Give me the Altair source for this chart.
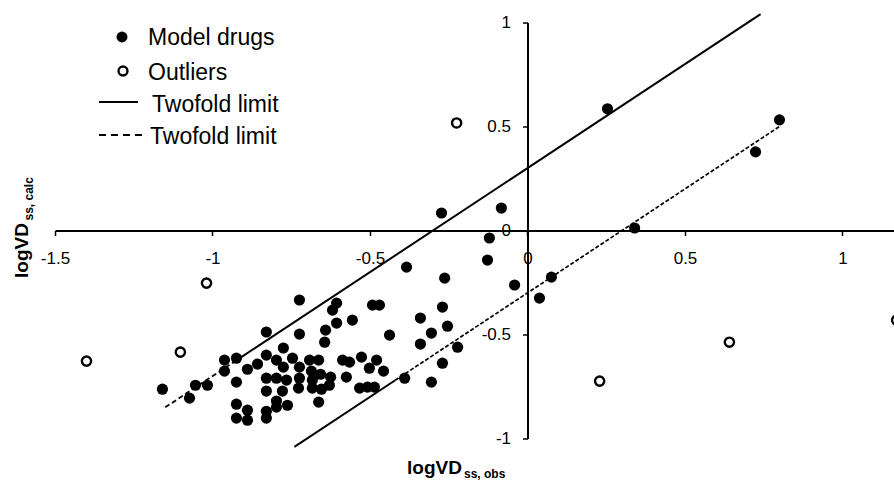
import altair as alt
import pandas as pd

# ---- data ----
model_x = [0.254, 0.800, 0.724, -0.273, -0.083, -0.121, -0.127, 0.340, 0.076, -0.041,
           0.038, -0.384, -0.263, -0.270, -0.340, -0.254, -0.305, -0.340, -0.222, -0.270,
           -0.390, -0.305, -0.724, -0.606, -0.492, -0.470, -0.619, -0.606, -0.556, -0.641,
           -0.724, -0.829, -0.644, -0.438, -0.775, -0.962, -0.962, -0.924, -0.889, -0.857,
           -0.829, -0.797, -0.775, -0.746, -0.724, -0.692, -0.663, -0.686, -0.657, -0.625,
           -0.587, -0.565, -0.527, -0.502, -0.479, -0.457, -0.829, -0.797, -0.765, -0.724,
           -0.683, -0.629, -0.575, -0.533, -0.508, -0.486, -0.924, -1.159, -1.054, -1.016,
           -1.073, -0.829, -0.778, -0.727, -0.683, -0.654, -0.797, -0.762, -0.663, -0.924,
           -0.889, -0.829, -0.797, -0.924, -0.889, -0.829]
model_y = [0.585, 0.532, 0.378, 0.084, 0.108, -0.036, -0.142, 0.012, -0.224, -0.262,
           -0.325, -0.176, -0.229, -0.368, -0.421, -0.460, -0.493, -0.546, -0.561, -0.638,
           -0.710, -0.729, -0.334, -0.349, -0.359, -0.359, -0.383, -0.445, -0.431, -0.479,
           -0.498, -0.488, -0.537, -0.503, -0.565, -0.623, -0.676, -0.614, -0.667, -0.642,
           -0.599, -0.623, -0.657, -0.614, -0.657, -0.623, -0.623, -0.676, -0.691, -0.705,
           -0.623, -0.633, -0.609, -0.662, -0.623, -0.676, -0.710, -0.710, -0.719, -0.710,
           -0.719, -0.744, -0.705, -0.758, -0.753, -0.753, -0.729, -0.763, -0.744, -0.744,
           -0.806, -0.772, -0.772, -0.758, -0.758, -0.763, -0.820, -0.840, -0.825, -0.835,
           -0.864, -0.869, -0.849, -0.902, -0.912, -0.902]

outlier_x = [-0.225, -1.019, -1.102, -1.400, 0.229, 0.641, 1.172]
outlier_y = [0.517, -0.253, -0.585, -0.628, -0.724, -0.537, -0.431]

upper_solid_x = [-0.91, 0.74]
upper_solid_y = [-0.61, 1.04]
upper_dash_x = [-1.15, -0.91]
upper_dash_y = [-0.85, -0.61]
lower_solid_x = [-0.74, -0.42]
lower_solid_y = [-1.04, -0.72]
lower_dash_x = [-0.42, 0.80]
lower_dash_y = [-0.72, 0.50]

x_ticks = [-1.5, -1, -0.5, 0, 0.5, 1]
y_ticks = [-1, -0.5, 0, 0.5, 1]
x_domain = [-1.5, 1.1635]
y_domain = [-1, 1]

legend_labels = ["Model drugs", "Outliers", "Twofold limit", "Twofold limit"]
x_title = ["logVD", "ss, obs"]
y_title = ["logVD", "ss, calc"]

# ---- chart ----
W, H = 839, 416
FONT = "Liberation Sans"

xs = alt.Scale(domain=x_domain, nice=False, zero=False)
ys = alt.Scale(domain=y_domain, nice=False, zero=False)

x_axis = alt.Axis(values=x_ticks, orient="bottom", offset=-(H / 2), title=None,
                  grid=False, labelExpr="toString(datum.value)", labelOverlap=False,
                  labelFlush=False, labelBound=False, labelPadding=15)
y_axis = alt.Axis(values=y_ticks, orient="left", offset=-(1.5 * 315), title=None,
                  grid=False, labelExpr="toString(datum.value)", labelOverlap=False,
                  labelFlush=False, labelBound=False, labelPadding=12)


def X():
    return alt.X("x:Q", scale=xs, axis=x_axis)


def Y():
    return alt.Y("y:Q", scale=ys, axis=y_axis)


model_df = pd.DataFrame({"x": model_x, "y": model_y})
out_df = pd.DataFrame({"x": outlier_x, "y": outlier_y})

models = alt.Chart(model_df).mark_point(
    shape="circle", filled=True, color="black", size=125, opacity=1
).encode(x=X(), y=Y())

outliers = alt.Chart(out_df).mark_point(
    shape="circle", filled=False, color="black", size=85, strokeWidth=2.4, opacity=1, clip=True
).encode(x=X(), y=Y())


def seg(xv, yv, dash=None, width=2.0):
    df = pd.DataFrame({"x": xv, "y": yv})
    kw = dict(color="black", strokeWidth=width)
    if dash:
        kw["strokeDash"] = dash
    return alt.Chart(df).mark_line(**kw).encode(x=X(), y=Y())


lines = [
    seg(upper_solid_x, upper_solid_y),
    seg(upper_dash_x, upper_dash_y, dash=[5, 3], width=1.8),
    seg(lower_solid_x, lower_solid_y),
    seg(lower_dash_x, lower_dash_y, dash=[4, 2], width=1.7),
]


def one(label):
    return pd.DataFrame({"label": [label]})


# legend (pixel positions relative to the plot origin)
leg = []
leg.append(alt.Chart(one(legend_labels[0])).mark_point(
    shape="circle", filled=True, color="black", size=120, opacity=1
).encode(x=alt.value(67), y=alt.value(14.5)))
leg.append(alt.Chart(one(legend_labels[1])).mark_point(
    shape="circle", filled=False, color="black", size=80, strokeWidth=2.4, opacity=1
).encode(x=alt.value(68), y=alt.value(48.5)))
leg.append(alt.Chart(one(legend_labels[2])).mark_rule(color="black", strokeWidth=2).encode(
    x=alt.value(44), x2=alt.value(83), y=alt.value(79.5)))
leg.append(alt.Chart(one(legend_labels[3])).mark_rule(
    color="black", strokeWidth=1.8, strokeDash=[7, 5]).encode(
    x=alt.value(44), x2=alt.value(89), y=alt.value(112.5)))

text_pos = [(93, 22.5), (93, 57.5), (97, 89.5), (95, 121.5)]
for lab, (tx, ty) in zip(legend_labels, text_pos):
    leg.append(alt.Chart(one(lab)).mark_text(
        align="left", baseline="alphabetic", font=FONT, fontSize=23, color="black"
    ).encode(x=alt.value(tx), y=alt.value(ty), text="label:N"))

# axis titles with subscripts
titles = [
    alt.Chart(one(x_title[0])).mark_text(
        align="left", baseline="alphabetic", font=FONT, fontSize=19, fontWeight="bold", color="black"
    ).encode(x=alt.value(352), y=alt.value(451.5), text="label:N"),
    alt.Chart(one(x_title[1])).mark_text(
        align="left", baseline="alphabetic", font=FONT, fontSize=12, fontWeight="bold", color="black"
    ).encode(x=alt.value(409), y=alt.value(455.5), text="label:N"),
    alt.Chart(one(y_title[0])).mark_text(
        align="left", baseline="alphabetic", font=FONT, fontSize=19, fontWeight="bold", color="black",
        angle=270
    ).encode(x=alt.value(-27), y=alt.value(255.5), text="label:N"),
    alt.Chart(one(y_title[1])).mark_text(
        align="left", baseline="alphabetic", font=FONT, fontSize=12, fontWeight="bold", color="black",
        angle=270
    ).encode(x=alt.value(-22), y=alt.value(198), text="label:N"),
]

chart = alt.layer(*lines, models, outliers, *leg, *titles).properties(
    width=W, height=H,
    padding={"left": 55, "top": 22.5, "right": 0, "bottom": 46.5},
    autosize="none",
    background="white",
).configure_view(stroke=None).configure_axis(
    domainColor="black", domainWidth=2, tickColor="black", tickWidth=1.5, tickSize=5,
    labelFont=FONT, labelFontSize=17, labelColor="black"
)

chart.save("out.html", embed_options={"renderer": "svg", "actions": False})
